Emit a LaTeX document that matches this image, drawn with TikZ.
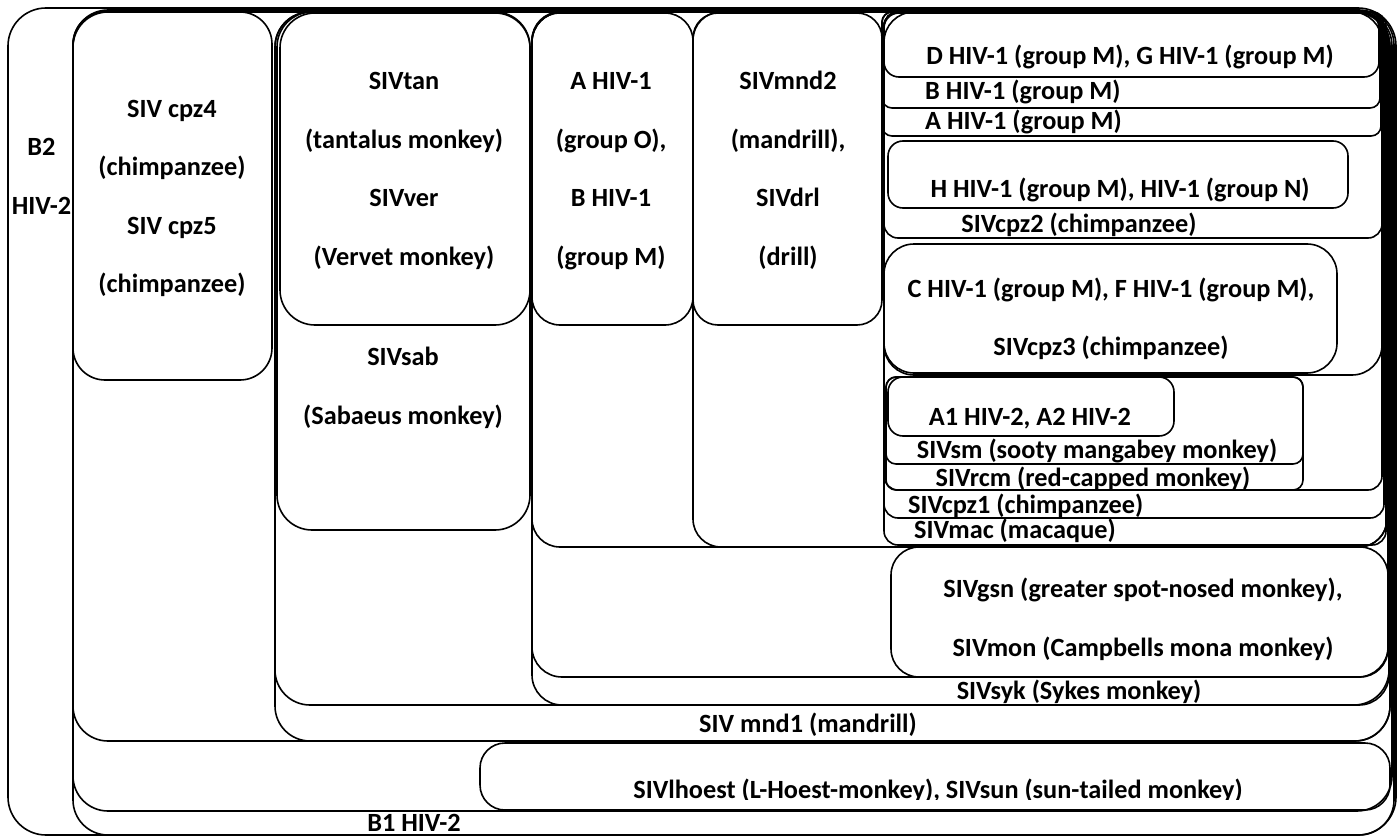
\documentclass[tikz,border=0pt]{standalone}
\usepackage{fontspec}
\setmainfont{Carlito}
\newcommand{\mlines}[1]{\begin{tabular}[t]{@{}c@{}}#1\end{tabular}}
\begin{document}
\begin{tikzpicture}[x=1pt,y=-1pt,
  box/.style={draw=black, line width=1.6pt},
  lbl/.style={font=\bfseries\fontsize{26.3}{58.5}\selectfont, inner sep=0pt, anchor=base}]
\useasboundingbox (0,0) rectangle (1399,837);
% outer containers
\draw[box, rounded corners=38pt] (8,8) rectangle (1396,835);
\draw[box, rounded corners=35pt] (73,10) rectangle (1394,835);
\draw[box, rounded corners=35pt] (73,11) rectangle (1392,811);
\draw[box, rounded corners=25pt] (480,743) rectangle (1390,810);
\draw[box, rounded corners=35pt] (73,12) rectangle (1390,741);
\draw[box, rounded corners=32pt] (73,12) rectangle (272,380);
\draw[box, rounded corners=35pt] (275,12) rectangle (1390,741);
\draw[box, rounded corners=35pt] (275,12) rectangle (1389,705);
\draw[box, rounded corners=35pt] (277,12) rectangle (530,530);
\draw[box, rounded corners=35pt] (280,13) rectangle (530,325);
\draw[box, rounded corners=30pt] (532,12) rectangle (1389,705);
\draw[box, rounded corners=30pt] (532,12) rectangle (1388,677);
\draw[box, rounded corners=28pt] (891,547) rectangle (1388,677);
\draw[box, rounded corners=28pt] (532,12) rectangle (1387,547);
\draw[box, rounded corners=28pt] (532,13) rectangle (693,325);
\draw[box, rounded corners=28pt] (693,12) rectangle (1387,547);
\draw[box, rounded corners=25pt] (693,13) rectangle (882,325);
% right column
\draw[box, rounded corners=14pt] (884,12) rectangle (1386,545);
\draw[box, rounded corners=14pt] (884,12) rectangle (1384,518);
\draw[box, rounded corners=14pt] (884,12) rectangle (1382,490);
\draw[box, rounded corners=10pt] (886,377) rectangle (1303,490);
\draw[box, rounded corners=10pt] (886,377) rectangle (1303,464);
\draw[box, rounded corners=15pt] (888,377) rectangle (1174,436);
\draw[box, rounded corners=30pt] (884,12) rectangle (1382,375);
\draw[box, rounded corners=30pt] (884,244) rectangle (1337,373);
\draw[box, rounded corners=14pt] (884,12) rectangle (1382,238);
\draw[box, rounded corners=15pt] (888,141) rectangle (1348,208);
\draw[box, rounded corners=10pt] (882,12) rectangle (1381,136);
\draw[box, rounded corners=10pt] (882,12) rectangle (1380,108);
\draw[box, rounded corners=15pt] (884,13) rectangle (1379,77);
% labels
\node[lbl] (b2) at (41.5,156) {\mlines{B2\\HIV-2}};
\node[lbl] (b1) at (414,831.5) {B1 HIV-2};
\node[lbl] (cpz4) at (172,117.5) {\mlines{SIV cpz4\\(chimpanzee)\\SIV cpz5\\(chimpanzee)}};
\node[lbl] (tan) at (404,90) {\mlines{SIVtan\\(tantalus monkey)\\SIVver\\(Vervet monkey)}};
\node[lbl] (sab) at (403,365.5) {\mlines{SIVsab\\(Sabaeus monkey)}};
\node[lbl] (ahiv) at (611,90) {\mlines{A HIV-1\\(group O),\\B HIV-1\\(group M)}};
\node[lbl] (mnd2) at (788,90) {\mlines{SIVmnd2\\(mandrill),\\SIVdrl\\(drill)}};
\node[lbl] (dg) at (1130,65) {D HIV-1 (group M), G HIV-1 (group M)};
\node[lbl, anchor=base west] (bhiv) at (925,100) {B HIV-1 (group M)};
\node[lbl, anchor=base west] (ahivm) at (925,130) {A HIV-1 (group M)};
\node[lbl] (h) at (1120,197) {H HIV-1 (group M), HIV-1 (group N)};
\node[lbl] (cpz2) at (1079,232) {SIVcpz2 (chimpanzee)};
\node[lbl] (cf) at (1111,297) {\mlines{C HIV-1 (group M), F HIV-1 (group M),\\SIVcpz3 (chimpanzee)}};
\node[lbl] (a1) at (1030,425) {A1 HIV-2, A2 HIV-2};
\node[lbl] (sm) at (1097,458) {SIVsm (sooty mangabey monkey)};
\node[lbl] (rcm) at (1093,486.5) {SIVrcm (red-capped monkey)};
\node[lbl, anchor=base west] (cpz1) at (908,513) {SIVcpz1 (chimpanzee)};
\node[lbl] (mac) at (1015,538) {SIVmac (macaque)};
\node[lbl] (gsn) at (1143,597.5) {\mlines{SIVgsn (greater spot-nosed monkey),\\SIVmon (Campbells mona monkey)}};
\node[lbl] (syk) at (1079,699) {SIVsyk (Sykes monkey)};
\node[lbl] (mnd1) at (808,732) {SIV mnd1 (mandrill)};
\begin{scope}
\clip (480,744) rectangle (1390,799.5);
\node[lbl] (lhoest) at (938,798) {SIVlhoest (L-Hoest-monkey), SIVsun (sun-tailed monkey)};
\end{scope}
\end{tikzpicture}
\end{document}
